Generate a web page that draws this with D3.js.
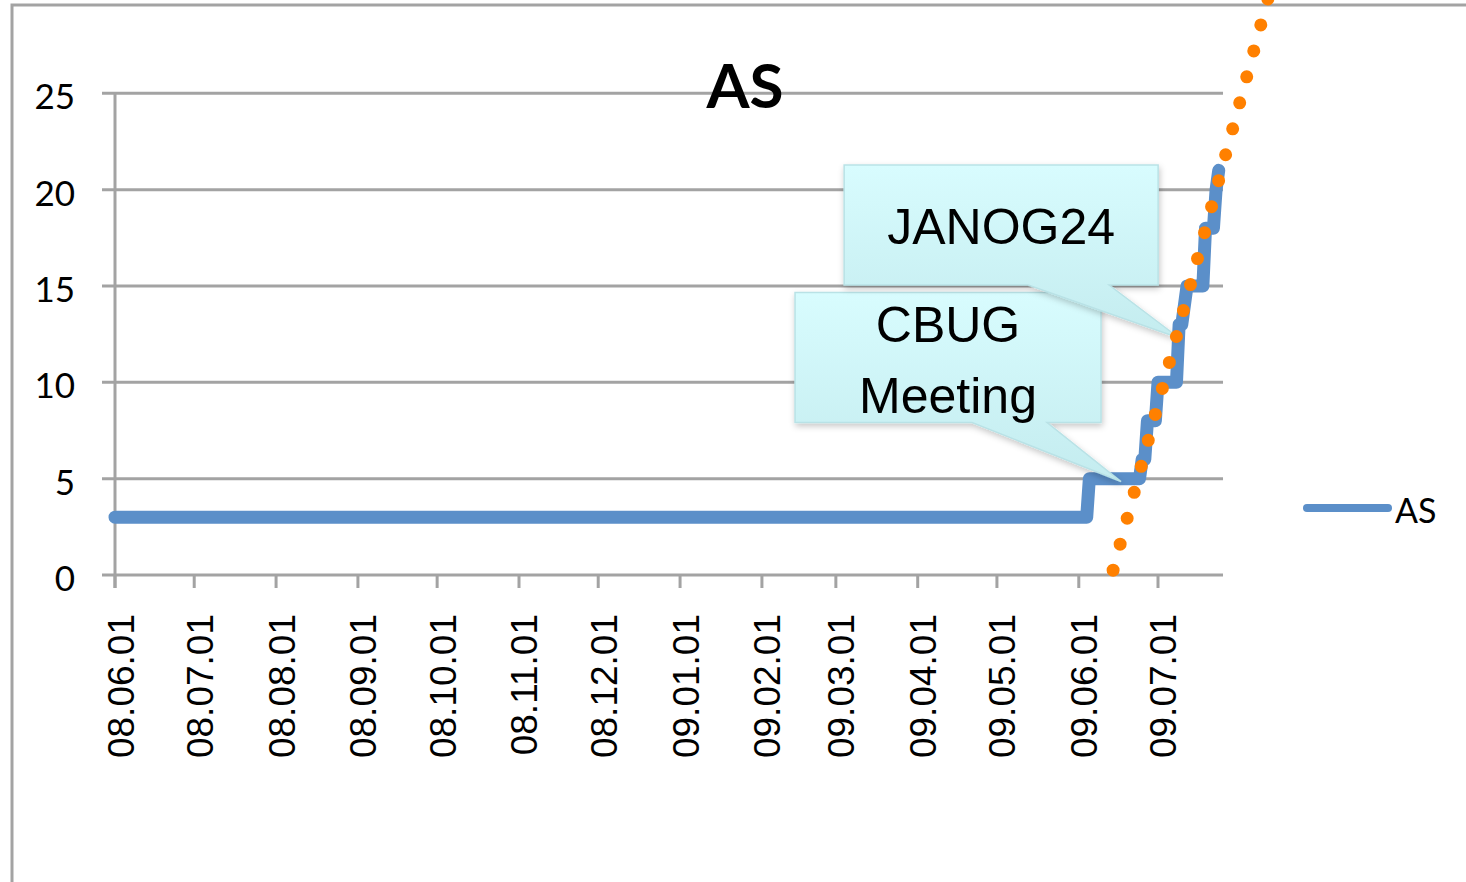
<!DOCTYPE html>
<html><head><meta charset="utf-8">
<script src="https://cdn.jsdelivr.net/npm/d3@7"></script>
<style>html,body{margin:0;padding:0;background:#fff;overflow:hidden}</style>
</head><body>
<svg id="chart" width="1466" height="882"></svg>
<script>
// ---------- data ----------
const chartTitle = "AS";
const seriesName = "AS";
const dates  = ["2008-06-01","2009-06-04","2009-06-05","2009-06-24","2009-06-25","2009-06-26","2009-06-27","2009-06-30","2009-07-01","2009-07-08","2009-07-09","2009-07-10","2009-07-12","2009-07-18","2009-07-19","2009-07-22","2009-07-23","2009-07-24"];
const values = [3,3,5,5,6,6,8,8,10,10,13,13,15,15,18,18,20,21];
const trendDates  = ["2009-06-14","2009-08-12"];
const trendValues = [0.25, 30.1];
const xTickLabels = ["08.06.01","08.07.01","08.08.01","08.09.01","08.10.01","08.11.01","08.12.01","09.01.01","09.02.01","09.03.01","09.04.01","09.05.01","09.06.01","09.07.01"];
const yTicks = [0,5,10,15,20,25];
const calloutTexts  = [["CBUG","Meeting"],["JANOG24"]];
const calloutDates  = ["2009-06-17","2009-07-09"];
const calloutValues = [4.85, 12.3];

// ---------- layout ----------
const parse = d3.utcParse("%Y-%m-%d");
const parseTick = d3.utcParse("%y.%m.%d");
const svg = d3.select("#chart");
const plotLeft = 115, plotBottom = 575, plotTop = 93.3;
const x = d3.scaleUtc().domain([parse("2008-06-01"), parse("2009-07-26")]).range([plotLeft, plotLeft + 420*2.6405]);
const y = d3.scaleLinear().domain([0,25]).range([plotBottom, plotTop]);
const gridColor = "#a3a3a3";
const blue = "#5b8fc9", orange = "#ff8000";
const xEnd = x.range()[1] - 1;

// outer frame
svg.append("path").attr("d", `M12,882 L12,5 L1466,5`).attr("fill","none").attr("stroke",gridColor).attr("stroke-width",3);

// defs
const defs = svg.append("defs");
const grad = defs.append("linearGradient").attr("id","cg").attr("x1",0).attr("y1",0).attr("x2",0).attr("y2",1);
grad.append("stop").attr("offset","0%").attr("stop-color","#d8fcfe");
grad.append("stop").attr("offset","100%").attr("stop-color","#c4ecef");
const flt = defs.append("filter").attr("id","sh").attr("x","-20%").attr("y","-20%").attr("width","140%").attr("height","160%");
flt.append("feDropShadow").attr("dx",1).attr("dy",3).attr("stdDeviation",3).attr("flood-color","#000").attr("flood-opacity",0.22);

// gridlines + y ticks
svg.append("g").selectAll("line").data(yTicks).join("line")
  .attr("x1", plotLeft-13).attr("x2", xEnd)
  .attr("y1", d=>y(d)).attr("y2", d=>y(d))
  .attr("stroke", gridColor).attr("stroke-width", 3);

// y axis line
svg.append("line").attr("x1",plotLeft).attr("x2",plotLeft).attr("y1",y(25)).attr("y2",plotBottom+13)
  .attr("stroke",gridColor).attr("stroke-width",3);

// x ticks
const tickDates = xTickLabels.map(parseTick);
svg.append("g").selectAll("line").data(tickDates).join("line")
  .attr("x1", d=>x(d)).attr("x2", d=>x(d)).attr("y1", plotBottom).attr("y2", plotBottom+13)
  .attr("stroke", gridColor).attr("stroke-width", 3);

// y labels
svg.append("g").selectAll("text").data(yTicks).join("text")
  .attr("x", 75).attr("y", d=>y(d)+16).attr("text-anchor","end")
  .attr("font-family","Lato, 'Liberation Sans', sans-serif").attr("font-size",35).attr("fill","#000")
  .text(d=>d);

// x labels
svg.append("g").selectAll("text").data(xTickLabels).join("text")
  .attr("transform", d=>`translate(${x(parseTick(d))+18.5},614) rotate(-90)`)
  .attr("text-anchor","end")
  .attr("font-family","'Liberation Sans', Arial, sans-serif").attr("font-size",37).attr("fill","#000")
  .text(d=>d);

// title
svg.append("text").attr("x",745).attr("y",108).attr("text-anchor","middle")
  .attr("font-family","Lato, sans-serif").attr("font-weight",700).attr("font-size",62).attr("fill","#000")
  .text(chartTitle);

// main series
const pts = dates.map((d,i)=>[parse(d), values[i]]);
svg.append("path").datum(pts)
  .attr("d", d3.line().x(d=>x(d[0])).y(d=>y(d[1])))
  .attr("fill","none").attr("stroke",blue).attr("stroke-width",13)
  .attr("stroke-linejoin","round").attr("stroke-linecap","round");

// callouts (box geometry relative to tip)
const calloutBoxes = [
  {l:-326, r:-20, t:-189, b:-59, w1:-149, w2:-74, lines:[49,120]},
  {l:-335, r:-21, t:-173, b:-53, w1:-151, w2:-70, lines:[79]}
];
calloutTexts.forEach((txt,i)=>{
  const tx = x(parse(calloutDates[i])), ty = y(calloutValues[i]);
  const b = calloutBoxes[i];
  const p = d3.path();
  p.moveTo(tx+b.l, ty+b.t);
  p.lineTo(tx+b.r, ty+b.t);
  p.lineTo(tx+b.r, ty+b.b);
  p.lineTo(tx+b.w2, ty+b.b);
  p.lineTo(tx, ty);
  p.lineTo(tx+b.w1, ty+b.b);
  p.lineTo(tx+b.l, ty+b.b);
  p.closePath();
  const g = svg.append("g");
  g.append("path").attr("d", p.toString()).attr("fill","url(#cg)")
    .attr("stroke","#b9e2e6").attr("stroke-width",1.5).attr("filter","url(#sh)");
  const cx = tx + (b.l+b.r)/2;
  txt.forEach((line,j)=>{
    g.append("text").attr("x",cx).attr("y",ty+b.t+b.lines[j]).attr("text-anchor","middle")
      .attr("font-family","'Liberation Sans', Arial, sans-serif").attr("font-size",50).attr("fill","#000")
      .text(line);
  });
});

// trend line (dotted)
const tpts = trendDates.map((d,i)=>[parse(d), trendValues[i]]);
svg.append("path").datum(tpts)
  .attr("d", d3.line().x(d=>x(d[0])).y(d=>y(d[1])))
  .attr("fill","none").attr("stroke",orange).attr("stroke-width",13)
  .attr("stroke-linecap","round").attr("stroke-dasharray","0 26.9");

// legend
svg.append("line").attr("x1",1307).attr("x2",1388).attr("y1",508).attr("y2",508)
  .attr("stroke",blue).attr("stroke-width",8).attr("stroke-linecap","round");
svg.append("text").attr("x",1395).attr("y",523)
  .attr("font-family","Lato, sans-serif").attr("font-size",34).attr("fill","#000").text(seriesName);
</script>
</body></html>
